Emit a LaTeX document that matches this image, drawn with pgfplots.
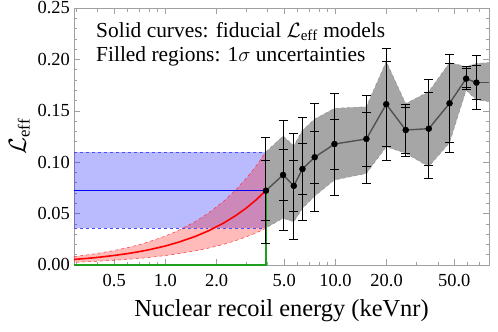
\documentclass[border=0pt]{standalone}
\usepackage{fontspec}
\setmainfont{Liberation Serif}
\usepackage{pgfplots}
\usepackage{pgfplotstable}
\pgfplotsset{compat=1.18}
\definecolor{bandgray}{RGB}{166,166,166}
\definecolor{linegray}{RGB}{80,80,80}
\definecolor{fidgreen}{RGB}{30,160,30}
\definecolor{framegray}{RGB}{160,160,160}

% measured points: energy, Leff, total (outer) and statistical (inner) errors
\pgfplotstableread{
x     y       op      om      ip      im
3.9   0.0723  0.0517  0.0513  0.0297  0.0293
4.92  0.0876  0.0534  0.0536  0.0244  0.0246
5.69  0.0770  0.0510  0.0520  0.0245  0.0250
6.4   0.0934  0.0503  0.0504  0.0246  0.0244
7.55  0.1048  0.0519  0.0528  0.0249  0.0253
9.87  0.1177  0.0493  0.0502  0.0243  0.0247
15.2  0.1226  0.0424  0.0431  0.0260  0.0269
19.9  0.1564  0.0541  0.0544  0.0411  0.0413
25.9  0.1313  0.0247  0.0256  0.0221  0.0227
35.4  0.1326  0.0480  0.0486  0.0354  0.0356
46.9  0.1573  0.0477  0.0477  0.0387  0.0383
58.7  0.1813  0.0117  0.0103  0.0097  0.0083
67.5  0.1774  0.0263  0.0264  0.0169  0.0168
}\pts

\begin{document}
\begin{tikzpicture}
\path[use as bounding box] (-74bp,-67bp) rectangle (424bp,265bp);
\begin{axis}[
    scale only axis,
    width=415bp, height=257bp,
    clip mode=individual,
    xmode=log,
    xmin=0.29, xmax=80,
    ymin=0, ymax=0.25,
    axis line style={framegray, line width=0.6bp},
    xtick={0.5,1,2,5,10,20,50},
    xticklabels={0.5,1.0,2.0,5.0,10.0,20.0,50.0},
    minor xtick={0.3,0.4,0.6,0.7,0.8,0.9,3,4,6,7,8,9,30,40,60,70},
    ytick={0,0.05,0.1,0.15,0.2,0.25},
    yticklabels={0.00,0.05,0.10,0.15,0.20,0.25},
    minor y tick num=4,
    tick align=inside,
    major tick length=6bp, minor tick length=3.5bp,
    tick style={framegray, line width=0.6bp},
    /pgf/number format/assume math mode=true,
    ticklabel style={font=\fontsize{18.5}{20}\selectfont},
    xticklabel style={anchor=base, yshift=-21bp},
    yticklabel style={inner sep=0pt, xshift=-4bp},
    xlabel={Nuclear recoil energy (keVnr)},
    xlabel style={font=\fontsize{24.5}{27}\selectfont, at={(axis description cs:0.5,0)}, anchor=base, yshift=-51bp},
    error bars/error bar style={black, line width=1bp},
    error bars/error mark options={black, line width=1bp, mark size=4.5bp, rotate=90},
]
% blue region and fiducial value
\addplot[fill=blue, fill opacity=0.27, draw=none] coordinates {
    (0.29,0.0357)(3.9,0.0357)(3.9,0.110)(0.29,0.110)} -- cycle;
% red region
\addplot[fill=red, fill opacity=0.27, draw=none] coordinates {
    (0.29,0.0082)(0.35,0.0099)(0.4,0.0113)(0.5,0.0141)(0.6,0.0169)(0.7,0.0197)
    (0.8,0.0226)(1.0,0.0282)(1.2,0.0338)(1.5,0.0423)(1.8,0.0508)(2.2,0.0620)
    (2.6,0.0733)(3.0,0.0846)(3.4,0.0959)(3.9,0.110)
    (3.9,0.0357)(3.4,0.0311)(3.0,0.0275)(2.6,0.0238)(2.2,0.0201)(1.8,0.0165)
    (1.5,0.0137)(1.2,0.0110)(1.0,0.0092)(0.8,0.0073)(0.7,0.0064)(0.6,0.0055)
    (0.5,0.0046)(0.4,0.0037)(0.35,0.0032)(0.29,0.0027)} -- cycle;
% gray region
\addplot[fill=bandgray, draw=none] coordinates {
    (3.9,0.110)(4.92,0.1255)(5.69,0.116)(6.4,0.131)(7.55,0.142)(9.87,0.1524)
    (15.2,0.154)(19.9,0.198)(25.9,0.157)(35.4,0.1686)(46.9,0.197)(58.7,0.193)
    (67.5,0.196)(80,0.197)
    (80,0.159)(67.5,0.1606)(58.7,0.170)(46.9,0.119)(35.4,0.0957)(25.9,0.1087)
    (19.9,0.115)(15.2,0.089)(9.87,0.0827)(7.55,0.067)(6.4,0.055)(5.69,0.042)
    (4.92,0.0454)(3.9,0.036)} -- cycle;
% dashed edges
\addplot[blue!70, dashed, line width=0.6bp] coordinates {(0.29,0.110)(3.9,0.110)};
\addplot[blue!70, dashed, line width=0.6bp] coordinates {(0.29,0.0357)(3.9,0.0357)};
\addplot[red!80, dashed, line width=0.5bp] coordinates {
    (0.29,0.0082)(0.35,0.0099)(0.4,0.0113)(0.5,0.0141)(0.6,0.0169)(0.7,0.0197)
    (0.8,0.0226)(1.0,0.0282)(1.2,0.0338)(1.5,0.0423)(1.8,0.0508)(2.2,0.0620)
    (2.6,0.0733)(3.0,0.0846)(3.4,0.0959)(3.9,0.110)};
\addplot[red!80, dashed, line width=0.5bp] coordinates {
    (3.9,0.0357)(3.4,0.0311)(3.0,0.0275)(2.6,0.0238)(2.2,0.0201)(1.8,0.0165)
    (1.5,0.0137)(1.2,0.0110)(1.0,0.0092)(0.8,0.0073)(0.7,0.0064)(0.6,0.0055)
    (0.5,0.0046)(0.4,0.0037)(0.35,0.0032)(0.29,0.0027)};
\addplot[black!45, dashed, line width=0.4bp] coordinates {
    (3.9,0.110)(4.92,0.1255)(5.69,0.116)(6.4,0.131)(7.55,0.142)(9.87,0.1524)
    (15.2,0.154)(19.9,0.198)(25.9,0.157)(35.4,0.1686)(46.9,0.197)(58.7,0.193)
    (67.5,0.196)(80,0.197)};
\addplot[black!45, dashed, line width=0.4bp] coordinates {
    (80,0.159)(67.5,0.1606)(58.7,0.170)(46.9,0.119)(35.4,0.0957)(25.9,0.1087)
    (19.9,0.115)(15.2,0.089)(9.87,0.0827)(7.55,0.067)(6.4,0.055)(5.69,0.042)
    (4.92,0.0454)(3.9,0.036)};
% fiducial curves
\addplot[fidgreen, line width=1.3bp] coordinates {(0.29,0)(3.9,0)(3.9,0.0723)};
\addplot[blue, line width=1.3bp] coordinates {(0.29,0.0723)(3.9,0.0723)};
\addplot[red, line width=1.6bp] coordinates {
    (0.29,0.0054)(0.35,0.0065)(0.4,0.0074)(0.5,0.0093)(0.6,0.0111)(0.7,0.0130)
    (0.8,0.0148)(1.0,0.0185)(1.2,0.0223)(1.5,0.0278)(1.8,0.0334)(2.2,0.0408)
    (2.6,0.0482)(3.0,0.0556)(3.4,0.0631)(3.9,0.0723)};
% measured curve
\addplot[linegray, line width=1.4bp, mark=none] table[x=x, y=y] {\pts};
\addplot[linegray, line width=1.4bp] coordinates {(67.5,0.1774)(80,0.1774)};
\addplot[black, only marks, mark=*, mark size=0pt,
    error bars/.cd, y dir=both, y explicit]
    table[x=x, y=y, y error plus=op, y error minus=om] {\pts};
\addplot[black, only marks, mark=*, mark size=3bp,
    error bars/.cd, y dir=both, y explicit]
    table[x=x, y=y, y error plus=ip, y error minus=im] {\pts};

\node[anchor=base west, font=\fontsize{21.5}{23}\selectfont, inner sep=0pt]
    at (axis description cs:0.053,0.886) {Solid curves: fiducial $\mathcal{L}_{\rm eff}$ models};
\node[anchor=base west, font=\fontsize{21.5}{23}\selectfont, inner sep=0pt]
    at (axis description cs:0.053,0.79) {Filled regions: 1$\sigma$ uncertainties};
\node[rotate=90, anchor=base, font=\fontsize{24}{26}\selectfont, inner sep=0pt]
    at (axis description cs:-0.116,0.5) {$\mathcal{L}_{\rm eff}$};
\end{axis}
\end{tikzpicture}
\end{document}
